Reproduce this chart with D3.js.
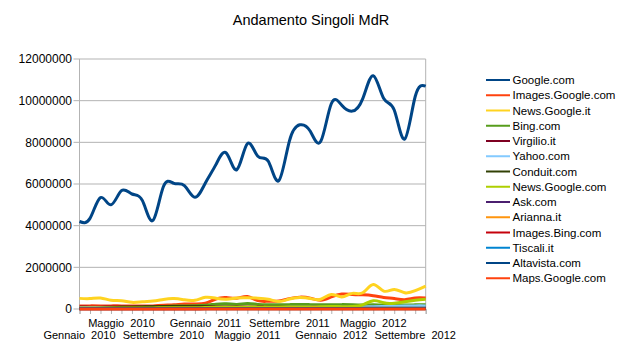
<!DOCTYPE html>
<html><head><meta charset="utf-8">
<script src="https://cdn.jsdelivr.net/npm/d3@7"></script>
<style>
html,body{margin:0;padding:0;background:#fff;}
text{font-family:"Liberation Sans",Arial,sans-serif;fill:#000;}
</style></head>
<body><svg id="c" width="624" height="355"></svg>
<script>
// ---- data ----
const months = ["Gennaio  2010","Febbraio  2010","Marzo  2010","Aprile  2010","Maggio  2010","Giugno  2010","Luglio  2010","Agosto  2010",
"Settembre  2010","Ottobre  2010","Novembre  2010","Dicembre  2010","Gennaio  2011","Febbraio  2011","Marzo  2011","Aprile  2011",
"Maggio  2011","Giugno  2011","Luglio  2011","Agosto  2011","Settembre  2011","Ottobre  2011","Novembre  2011","Dicembre  2011",
"Gennaio  2012","Febbraio  2012","Marzo  2012","Aprile  2012","Maggio  2012","Giugno  2012","Luglio  2012","Agosto  2012",
"Settembre  2012","Ottobre  2012"];
const seriesNames = ["Google.com","Images.Google.com","News.Google.it","Bing.com","Virgilio.it","Yahoo.com","Conduit.com",
"News.Google.com","Ask.com","Arianna.it","Images.Bing.com","Tiscali.it","Altavista.com","Maps.Google.com"];
const seriesColors = ["#004586","#ff420e","#ffd320","#579d1c","#7e0021","#83caff","#314004","#aecf00","#4b1f6f","#ff950e","#c5000b","#0084d1","#004586","#ff420e"];
const yTicks = [0,2000000,4000000,6000000,8000000,10000000,12000000];

const googleCom = [4200000,4350000,5350000,5000000,5680000,5520000,5200000,4250000,5880000,6030000,5920000,5360000,
6050000,6930000,7480000,6690000,7930000,7330000,7090000,6160000,8050000,8840000,8530000,8050000,
9850000,9780000,9500000,10100000,11200000,10100000,9550000,8160000,10200000,10700000];
const imagesGoogleCom = [150000,150000,150000,150000,150000,140000,140000,150000,180000,200000,240000,240000,
280000,480000,550000,520000,600000,400000,370000,380000,500000,570000,520000,420000,
580000,720000,700000,680000,640000,550000,500000,450000,530000,530000];
const newsGoogleIt = [510000,500000,530000,420000,400000,320000,350000,380000,460000,500000,440000,420000,
560000,520000,470000,530000,540000,520000,470000,360000,480000,550000,500000,470000,
700000,580000,750000,780000,1180000,860000,940000,780000,880000,1100000];
const bingCom = [60000,60000,70000,70000,80000,80000,90000,100000,120000,140000,150000,160000,
180000,230000,250000,220000,260000,220000,200000,200000,210000,220000,210000,200000,
200000,210000,200000,190000,200000,190000,200000,190000,200000,210000];
const virgilioIt = [90000,90000,90000,100000,100000,100000,100000,100000,110000,110000,110000,110000,
110000,100000,100000,100000,100000,100000,90000,90000,90000,90000,90000,90000,
80000,80000,80000,80000,80000,80000,80000,80000,80000,80000];
const yahooCom = [60000,60000,60000,60000,60000,60000,60000,60000,60000,60000,60000,60000,
70000,70000,70000,70000,70000,70000,70000,70000,80000,80000,80000,80000,
90000,90000,90000,100000,110000,120000,130000,140000,150000,150000];
const conduitCom = [30000,30000,40000,60000,80000,90000,100000,110000,120000,120000,120000,110000,
100000,90000,80000,70000,60000,60000,50000,50000,50000,50000,50000,50000,
40000,40000,40000,40000,40000,40000,40000,40000,40000,40000];
const newsGoogleCom = [50000,50000,50000,50000,50000,50000,50000,50000,60000,60000,60000,60000,
70000,80000,80000,80000,90000,90000,90000,90000,100000,100000,100000,110000,
120000,110000,120000,200000,400000,300000,280000,350000,420000,470000];
const askCom = [20000,20000,20000,20000,20000,20000,20000,20000,20000,20000,20000,20000,
20000,20000,20000,20000,20000,20000,20000,20000,20000,20000,20000,20000,
20000,20000,20000,20000,20000,20000,20000,20000,20000,20000];
const ariannaIt = [30000,30000,30000,30000,30000,30000,30000,30000,30000,30000,30000,30000,
30000,30000,30000,30000,30000,30000,30000,30000,30000,30000,30000,30000,
20000,20000,20000,20000,20000,20000,20000,20000,20000,20000];
const imagesBingCom = [10000,10000,10000,10000,10000,10000,10000,10000,10000,10000,10000,10000,
20000,20000,20000,20000,20000,20000,20000,20000,20000,20000,20000,20000,
20000,20000,20000,20000,20000,20000,20000,20000,20000,20000];
const tiscaliIt = [20000,20000,20000,20000,20000,20000,20000,20000,20000,20000,20000,20000,
20000,20000,20000,20000,20000,20000,20000,20000,20000,20000,20000,20000,
20000,20000,20000,20000,20000,20000,20000,20000,20000,20000];
const altavistaCom = [10000,10000,10000,10000,10000,10000,10000,10000,10000,10000,10000,10000,
10000,10000,10000,10000,10000,10000,10000,10000,10000,10000,10000,10000,
10000,10000,10000,10000,10000,10000,10000,10000,10000,10000];
const mapsGoogleCom = [5000,5000,5000,5000,5000,5000,5000,5000,5000,5000,5000,5000,
5000,5000,5000,5000,5000,5000,5000,5000,5000,5000,5000,5000,
5000,5000,5000,5000,5000,5000,5000,5000,5000,5000];
const seriesValues = [googleCom,imagesGoogleCom,newsGoogleIt,bingCom,virgilioIt,yahooCom,conduitCom,
newsGoogleCom,askCom,ariannaIt,imagesBingCom,tiscaliIt,altavistaCom,mapsGoogleCom];

// ---- chart ----
const svg = d3.select("#c");
const L = 79.5, R = 425.7, T = 59, B = 309;
const x = d3.scalePoint().domain(d3.range(months.length)).range([L, R]);
const y = d3.scaleLinear().domain([0, 12000000]).range([B, T]);
const grid = "#b3b3b3";

svg.append("text").attr("x", 311).attr("y", 25).attr("text-anchor", "middle")
  .style("font-size", "14.5px").text("Andamento Singoli MdR");

// y grid & labels
const yg = svg.append("g");
yTicks.forEach(v => {
  yg.append("line").attr("x1", L - 6).attr("x2", R).attr("y1", y(v)).attr("y2", y(v))
    .attr("stroke", grid).attr("stroke-width", 1);
  yg.append("text").attr("x", 72).attr("y", y(v)).attr("dy", "0.35em").attr("text-anchor", "end")
    .style("font-size", "12px").text(v);
});
// frame verticals
svg.append("line").attr("x1", L).attr("x2", L).attr("y1", T).attr("y2", B).attr("stroke", grid);
svg.append("line").attr("x1", R).attr("x2", R).attr("y1", T).attr("y2", B).attr("stroke", grid);

// x axis
const xAxis = d3.axisBottom(x).tickSize(5).tickFormat("");
const gx = svg.append("g").attr("transform", `translate(0,${B})`).call(xAxis);
gx.select(".domain").attr("stroke", grid);
gx.selectAll(".tick line").attr("stroke", grid);
months.forEach((m, i) => {
  if (i % 4 !== 0) return;
  const row = (i / 4) % 2;
  svg.append("text").attr("x", x(i)).attr("y", row === 0 ? 339 : 327)
    .attr("text-anchor", "middle").attr("xml:space", "preserve").style("white-space", "pre")
    .style("font-size", "11px").text(m);
});

// lines
const line = d3.line().x((d, i) => x(i)).y(d => y(d)).curve(d3.curveNatural);
seriesValues.forEach((vals, k) => {
  svg.append("path").datum(vals).attr("d", line).attr("fill", "none")
    .attr("stroke", seriesColors[k]).attr("stroke-width", 3).attr("stroke-linejoin", "round");
});

// legend
const lg = svg.append("g");
seriesNames.forEach((n, k) => {
  const yy = 80 + k * 15.25;
  lg.append("line").attr("x1", 486).attr("x2", 510).attr("y1", yy).attr("y2", yy)
    .attr("stroke", seriesColors[k]).attr("stroke-width", 2);
  lg.append("text").attr("x", 512.5).attr("y", yy).attr("dy", "0.36em")
    .style("font-size", "11.5px").text(n);
});
</script></body></html>
